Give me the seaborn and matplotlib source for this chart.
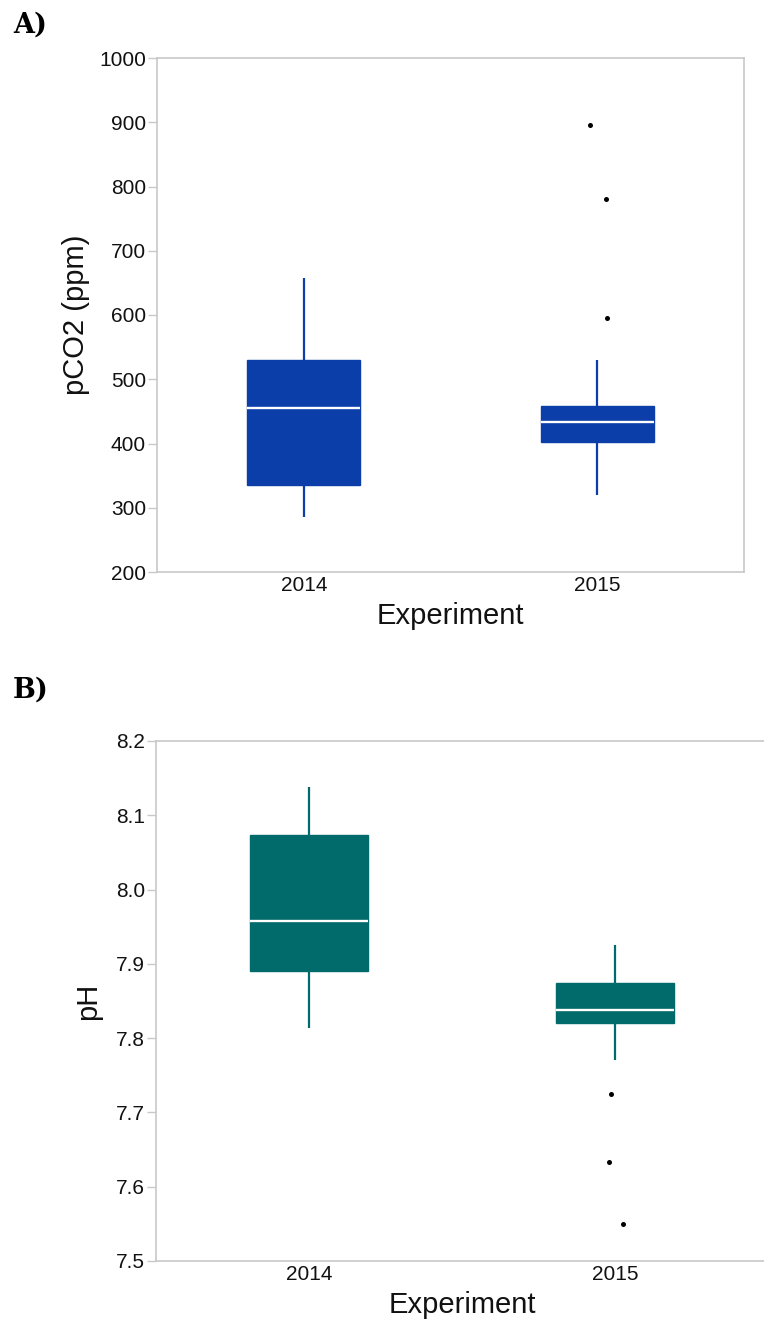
import numpy as np
import pandas as pd
import matplotlib
matplotlib.use("Agg")
import matplotlib.pyplot as plt
import seaborn as sns

# ---- data: box summaries per experiment (whisker low, Q1, median, Q3, whisker high) ----
experiments = ["2014", "2015"]

pco2_low = [285, 320]
pco2_q1 = [335, 402]
pco2_median = [455, 434]
pco2_q3 = [530, 458]
pco2_high = [658, 530]
pco2_outliers = [[], [896, 781, 596]]
pco2_outlier_jitter = [[], [-0.024, 0.031, 0.034]]

ph_low = [7.813, 7.770]
ph_q1 = [7.890, 7.821]
ph_median = [7.958, 7.838]
ph_q3 = [8.074, 7.874]
ph_high = [8.138, 7.926]
ph_outliers = [[], [7.725, 7.633, 7.550]]
ph_outlier_jitter = [[], [-0.014, -0.019, 0.027]]

pco2_ticks = [200, 300, 400, 500, 600, 700, 800, 900, 1000]
ph_ticks = [7.5, 7.6, 7.7, 7.8, 7.9, 8.0, 8.1, 8.2]


def expand(low, q1, med, q3, high, outliers):
    """Sample whose quartiles, whiskers and outliers equal the given summary."""
    above = sorted(v for v in outliers if v > q3)
    below = sorted(v for v in outliers if v < q1)
    k = len(outliers) + 1
    lower = below + [low] * (k - len(below))
    upper = [high] * (k - len(above)) + above
    return (lower + [q1] + [q1] * (k - 1) + [med] + [q3] * (k - 1)
            + [q3] + upper)


def build_frame(col, lows, q1s, meds, q3s, highs, outs):
    rows = []
    for i, exp in enumerate(experiments):
        for v in expand(lows[i], q1s[i], meds[i], q3s[i], highs[i], outs[i]):
            rows.append({"Experiment": exp, col: v})
    return pd.DataFrame(rows)


pco2_df = build_frame("pCO2", pco2_low, pco2_q1, pco2_median, pco2_q3,
                      pco2_high, pco2_outliers)
ph_df = build_frame("pH", ph_low, ph_q1, ph_median, ph_q3, ph_high,
                    ph_outliers)

sns.set_theme(style="white")
plt.rcParams["font.family"] = ["Liberation Sans", "DejaVu Sans"]

W, H = 764, 1321
fig = plt.figure(figsize=(W / 100, H / 100), dpi=100)

GRID = "#c8c8c8"
BLUE = "#0b3ea8"
TEAL = "#016a6a"
INK = "#111111"


def panel(rect, df, col, color, outliers, jitter, ticks, ticklabels,
          ylabel, ylabel_x, full_frame):
    ax = fig.add_axes(rect)
    sns.boxplot(data=df, x="Experiment", y=col, order=experiments,
                color=color, saturation=1, width=0.385, whis=1.5,
                showcaps=False, showfliers=False, linewidth=1.0,
                linecolor=color,
                medianprops=dict(color="white", linewidth=1.7),
                whiskerprops=dict(color=color, linewidth=1.6),
                ax=ax)
    xs, ys = [], []
    for i in range(len(experiments)):
        for v, j in zip(outliers[i], jitter[i]):
            xs.append(i + j)
            ys.append(v)
    sns.scatterplot(x=xs, y=ys, color="black", s=13, linewidth=0,
                    ax=ax, zorder=5)
    ax.set_xlim(-0.5, 1.5)
    ax.set_ylim(ticks[0], ticks[-1])
    ax.set_yticks(ticks)
    ax.set_yticklabels(ticklabels)
    ax.set_xticks(range(len(experiments)))
    ax.set_xticklabels(experiments)
    for side in ["left", "right", "top", "bottom"]:
        ax.spines[side].set_color(GRID)
        ax.spines[side].set_linewidth(1.2)
    if not full_frame:
        ax.spines["right"].set_visible(False)
    ax.tick_params(axis="y", left=True, length=6.5, width=1.0, color=GRID,
                   pad=1.5, labelsize=15, labelcolor=INK)
    ax.tick_params(axis="x", bottom=False, length=0, pad=3, labelsize=15,
                   labelcolor=INK)
    ax.set_xlabel("Experiment", fontsize=21, labelpad=5, color=INK)
    ax.set_ylabel(ylabel, fontsize=21, color=INK)
    ax.yaxis.set_label_coords(ylabel_x, 0.5)
    ax.grid(False)
    return ax


panel([157 / W, 1 - 572 / H, 587 / W, 514 / H], pco2_df, "pCO2", BLUE,
      pco2_outliers, pco2_outlier_jitter, pco2_ticks,
      [str(t) for t in pco2_ticks], "pCO2 (ppm)", -0.114, True)

panel([156 / W, 1 - 1261 / H, 612 / W, 520 / H], ph_df, "pH", TEAL,
      ph_outliers, ph_outlier_jitter, ph_ticks,
      [f"{t:.1f}" for t in ph_ticks], "pH", -0.088, False)

fig.text(13 / W, 1 - 33 / H, "A)", family="DejaVu Serif", weight="bold",
         fontsize=19.5, color="black", ha="left", va="baseline")
fig.text(13 / W, 1 - 698 / H, "B)", family="DejaVu Serif", weight="bold",
         fontsize=19.5, color="black", ha="left", va="baseline")

fig.savefig("out.png", dpi=100)
